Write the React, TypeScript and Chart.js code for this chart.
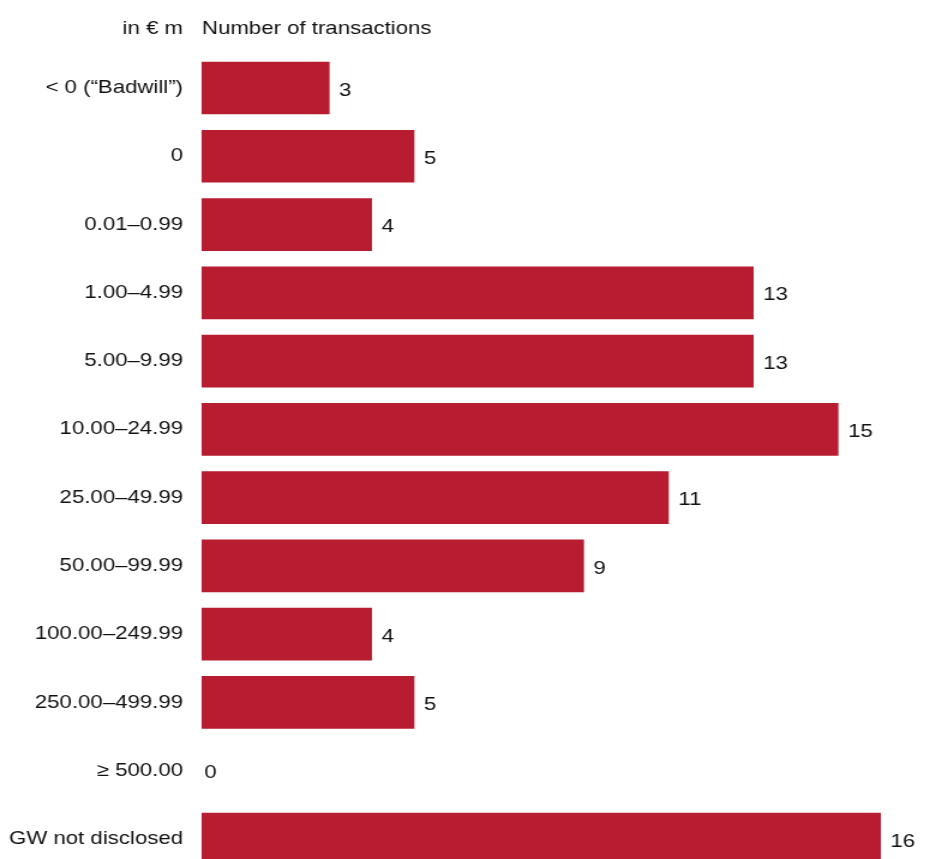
import React, { useEffect, useRef } from 'react';
import { Chart, registerables } from 'chart.js';

Chart.register(...registerables);

const categories = [
  '< 0 (“Badwill”)',
  '0',
  '0.01–0.99',
  '1.00–4.99',
  '5.00–9.99',
  '10.00–24.99',
  '25.00–49.99',
  '50.00–99.99',
  '100.00–249.99',
  '250.00–499.99',
  '≥ 500.00',
  'GW not disclosed',
];
const values = [3, 5, 4, 13, 13, 15, 11, 9, 4, 5, 0, 16];
const headerLeft = 'in € m';
const headerRight = 'Number of transactions';

const SX = 1.2;
const W = Math.round(939 / SX);
const H = 859;
const FONT = "'Liberation Sans', Arial, Helvetica, sans-serif";
const FS = 18.5;
const BAR = '#b71c30';

export default function App() {
  const ref = useRef<HTMLCanvasElement>(null);

  useEffect(() => {
    const canvas = ref.current;
    if (!canvas) return;
    const labelPlugin = {
      id: 'valueLabels',
      afterDatasetsDraw(chart: any) {
        const ctx = chart.ctx;
        const meta = chart.getDatasetMeta(0);
        ctx.save();
        ctx.font = `${FS}px ${FONT}`;
        ctx.fillStyle = '#111';
        ctx.textBaseline = 'middle';
        ctx.textAlign = 'left';
        meta.data.forEach((el: any, i: number) => {
          const v = values[i];
          const x = v === 0 ? el.base + 2 : el.x + 8.3;
          ctx.fillText(String(v), x, el.y + 2.5);
        });
        ctx.textAlign = 'right';
        ctx.fillText(headerLeft, chart.chartArea.left - 15.8, 29);
        ctx.textAlign = 'left';
        ctx.fillText(headerRight, chart.chartArea.left, 29);
        ctx.restore();
      },
    };

    const chart = new Chart(canvas, {
      type: 'bar',
      data: {
        labels: categories,
        datasets: [
          {
            data: values,
            backgroundColor: values.map((v) => (v === 0 ? 'rgba(0,0,0,0)' : BAR)),
            borderWidth: 0,
            barThickness: 52,
            clip: false,
          },
        ],
      },
      options: {
        indexAxis: 'y',
        responsive: false,
        animation: false,
        layout: { padding: { top: 88, bottom: 20, left: 0, right: 14 } },
        plugins: {
          legend: { display: false },
          tooltip: { enabled: false },
          title: { display: false },
        },
        scales: {
          x: {
            display: false,
            min: 0,
            max: 17,
          },
          y: {
            offset: false,
            grid: { display: false, drawTicks: false, offset: false },
            border: { display: false },
            ticks: {
              color: '#111',
              padding: 15.8,
              font: { family: FONT, size: FS },
            },
            afterFit(scale: any) {
              scale.width = 168.3;
              scale.paddingTop = 0;
              scale.paddingBottom = 0;
            },
          },
        },
      },
      plugins: [labelPlugin],
    });
    return () => chart.destroy();
  }, []);

  return (
    <div
      style={{
        position: 'fixed',
        left: 0,
        top: 0,
        width: 939,
        height: 859,
        overflow: 'hidden',
        background: '#fff',
      }}
    >
      <div
        style={{
          width: W,
          height: H,
          transform: `scaleX(${SX})`,
          transformOrigin: '0 0',
        }}
      >
        <canvas ref={ref} width={W} height={H} />
      </div>
    </div>
  );
}
